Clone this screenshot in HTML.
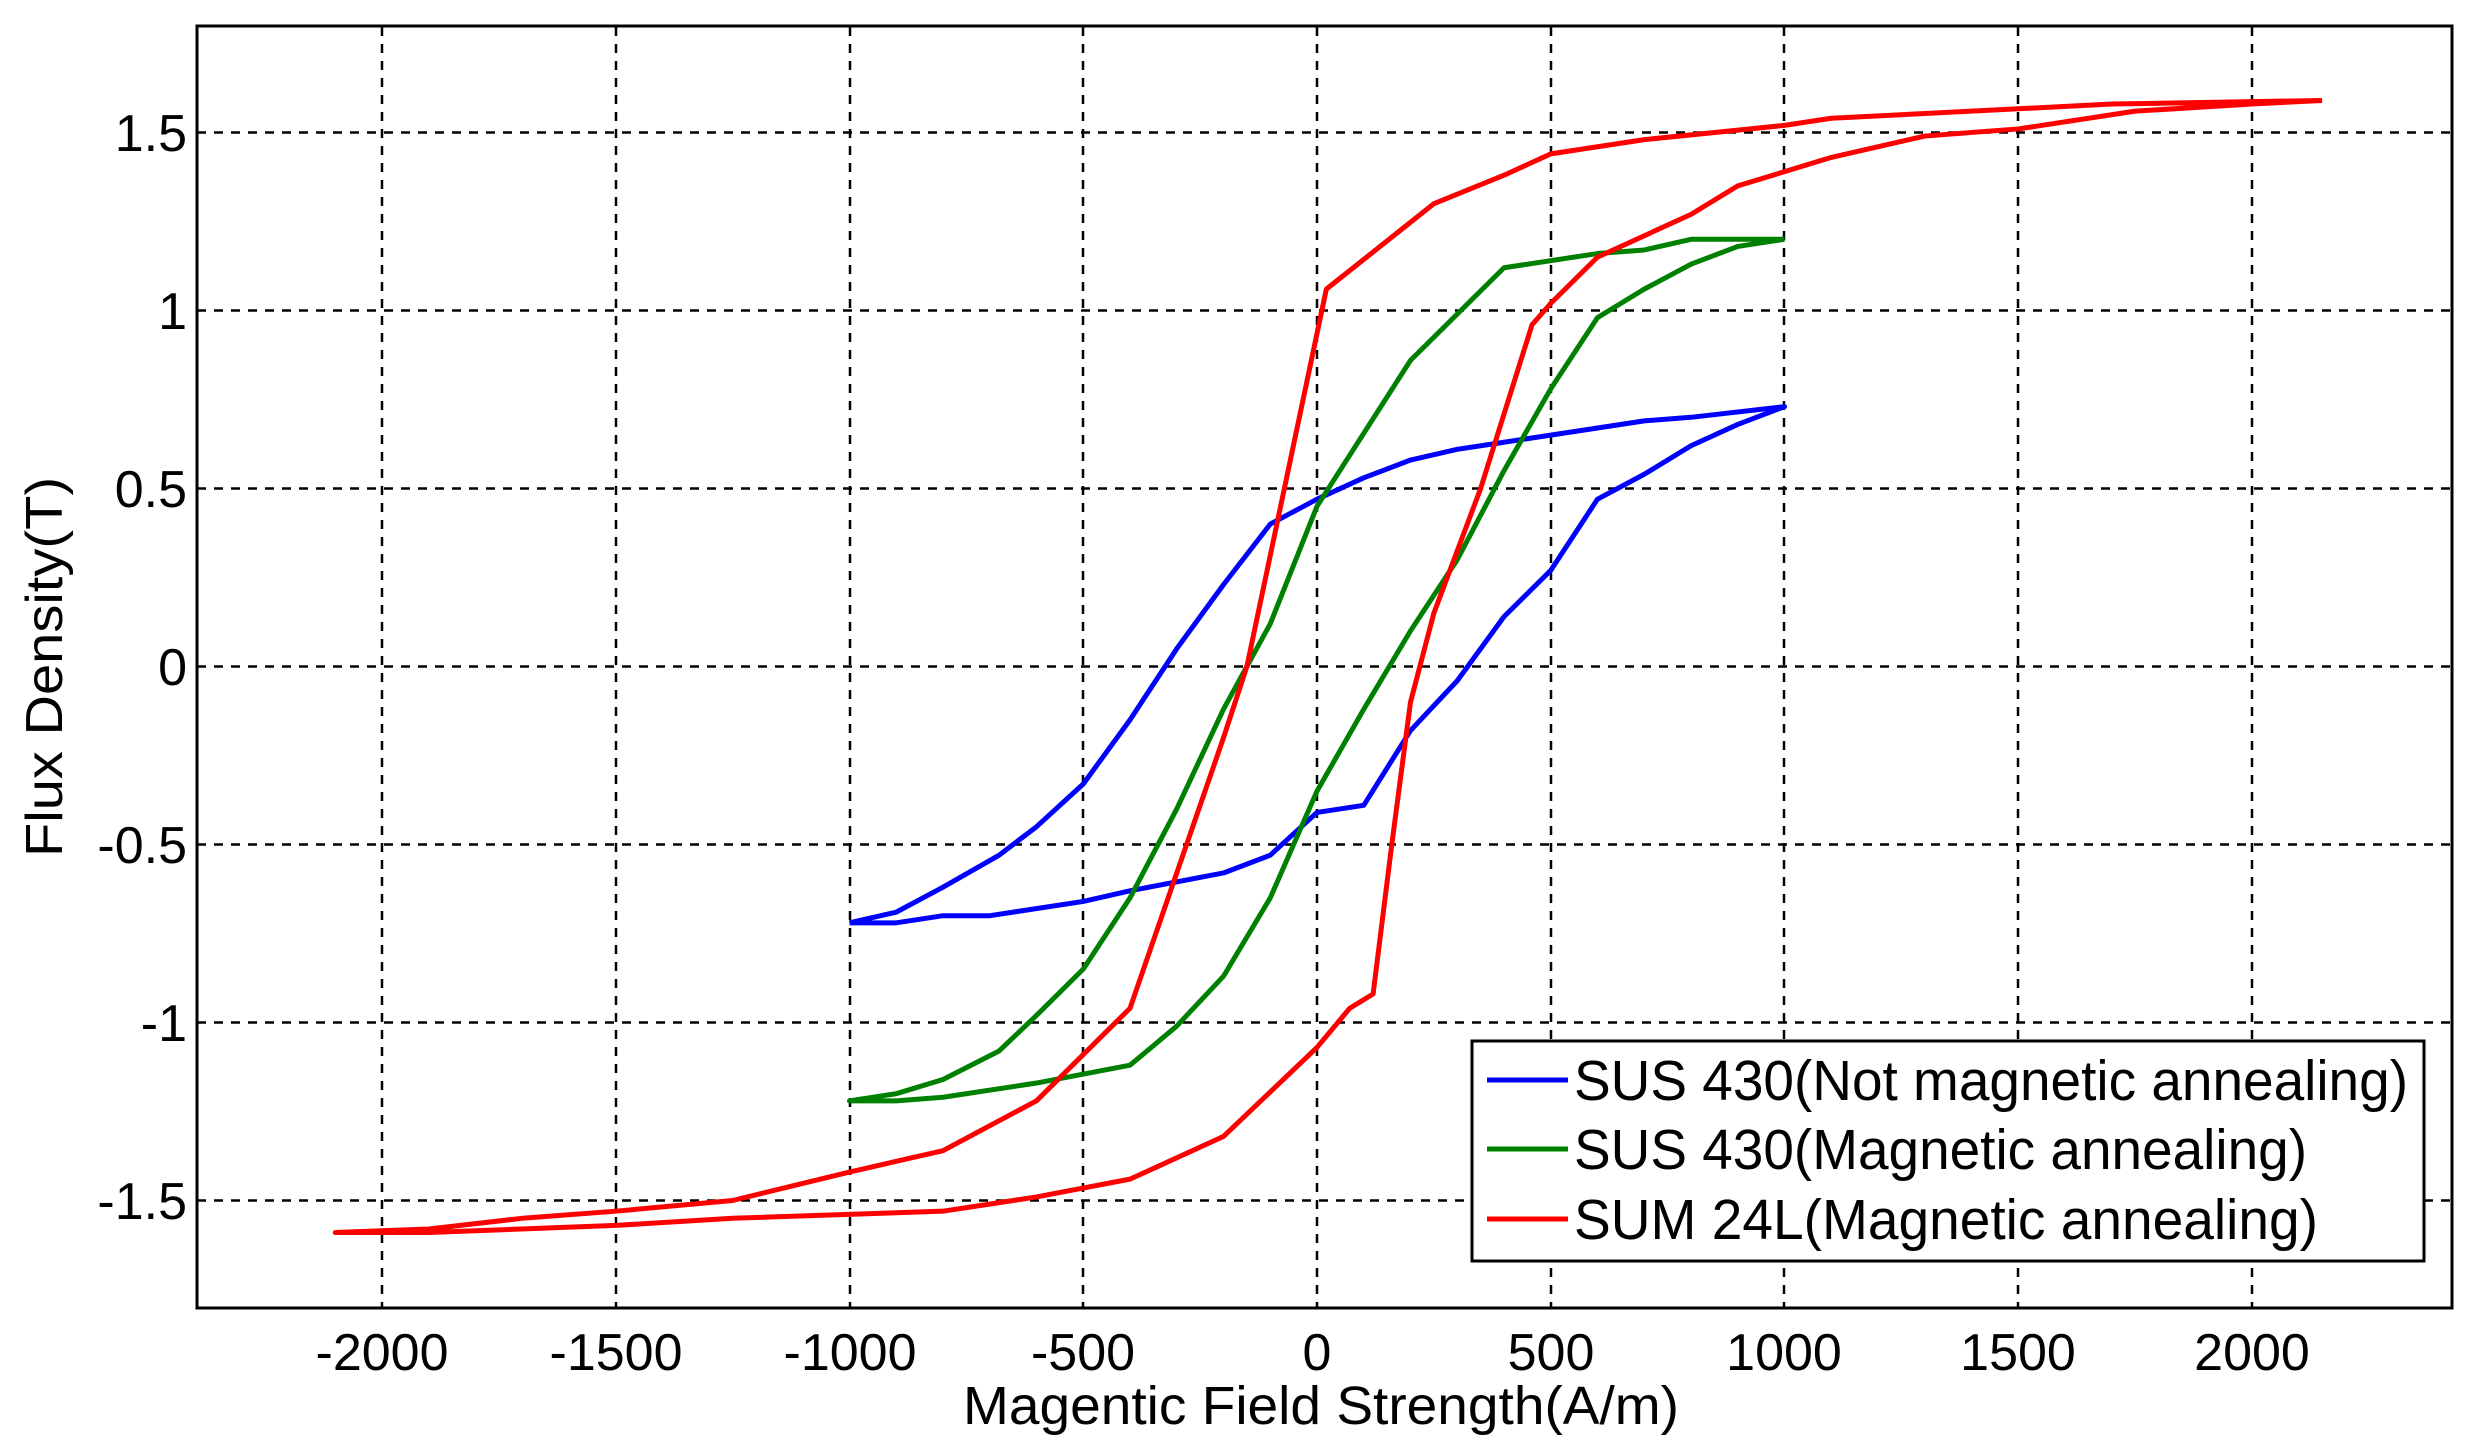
<!DOCTYPE html>
<html><head><meta charset="utf-8"><style>
html,body{margin:0;padding:0;background:#fff;}
svg{display:block;font-family:"Liberation Sans",sans-serif;}
</style></head><body>
<svg width="2470" height="1449" viewBox="0 0 2470 1449" xmlns="http://www.w3.org/2000/svg">
<rect width="2470" height="1449" fill="#fff"/>
<g stroke="#000" stroke-width="2.5" stroke-dasharray="9,8">
<line x1="382" y1="27" x2="382" y2="1308"/>
<line x1="616" y1="27" x2="616" y2="1308"/>
<line x1="850" y1="27" x2="850" y2="1308"/>
<line x1="1083" y1="27" x2="1083" y2="1308"/>
<line x1="1317" y1="27" x2="1317" y2="1308"/>
<line x1="1551" y1="27" x2="1551" y2="1308"/>
<line x1="1784" y1="27" x2="1784" y2="1308"/>
<line x1="2018" y1="27" x2="2018" y2="1308"/>
<line x1="2252" y1="27" x2="2252" y2="1308"/>
<line x1="197" y1="132.5" x2="2452" y2="132.5"/>
<line x1="197" y1="310.5" x2="2452" y2="310.5"/>
<line x1="197" y1="488.5" x2="2452" y2="488.5"/>
<line x1="197" y1="666.5" x2="2452" y2="666.5"/>
<line x1="197" y1="844.5" x2="2452" y2="844.5"/>
<line x1="197" y1="1022.5" x2="2452" y2="1022.5"/>
<line x1="197" y1="1200.5" x2="2452" y2="1200.5"/>
</g>
<rect x="197" y="26" width="2255" height="1282" fill="none" stroke="#000" stroke-width="3"/>
<g fill="none" stroke-width="5" stroke-linejoin="round" transform="matrix(0.4675 0 0 -356 1317 666.5)">
<polyline vector-effect="non-scaling-stroke" stroke="#0000ff" points="-1000,-0.72 -900,-0.69 -800,-0.62 -680,-0.53 -600,-0.45 -500,-0.33 -400,-0.15 -300,0.05 -200,0.23 -100,0.4 0,0.47 100,0.53 200,0.58 300,0.61 400,0.63 500,0.65 600,0.67 700,0.69 800,0.7 1000,0.73 900,0.68 800,0.62 700,0.54 600,0.47 500,0.27 400,0.14 300,-0.04 200,-0.18 100,-0.39 0,-0.41 -100,-0.53 -200,-0.58 -400,-0.63 -500,-0.66 -700,-0.7 -800,-0.7 -900,-0.72 -1000,-0.72"/>
<polyline vector-effect="non-scaling-stroke" stroke="#008000" points="1000,1.2 800,1.2 700,1.17 600,1.16 400,1.12 200,0.86 0,0.45 -100,0.12 -200,-0.12 -300,-0.4 -400,-0.65 -500,-0.85 -600,-0.98 -680,-1.08 -800,-1.16 -900,-1.2 -1000,-1.22 -900,-1.22 -800,-1.21 -600,-1.17 -400,-1.12 -300,-1.01 -200,-0.87 -100,-0.65 0,-0.35 100,-0.12 200,0.1 300,0.3 400,0.55 500,0.78 600,0.98 700,1.06 800,1.13 900,1.18 1000,1.2"/>
<polyline vector-effect="non-scaling-stroke" stroke="#ff0000" points="2150,1.59 1700,1.58 1100,1.54 1000,1.52 700,1.48 500,1.44 400,1.38 250,1.3 20,1.06 -150,0 -200,-0.2 -400,-0.96 -600,-1.22 -800,-1.36 -1000,-1.42 -1250,-1.5 -1500,-1.53 -1700,-1.55 -1900,-1.58 -2100,-1.59 -1900,-1.59 -1500,-1.57 -1250,-1.55 -800,-1.53 -600,-1.49 -400,-1.44 -200,-1.32 0,-1.07 70,-0.96 120,-0.92 160,-0.5 200,-0.1 250,0.15 350,0.5 460,0.96 500,1.02 600,1.15 800,1.27 900,1.35 1100,1.43 1300,1.49 1500,1.51 1750,1.56 2000,1.58 2150,1.59"/>
</g>
<rect x="1472" y="1041" width="952" height="220" fill="#fff" stroke="#000" stroke-width="3"/>
<g stroke-width="5">
<line x1="1487" y1="1080" x2="1568" y2="1080" stroke="#0000ff"/>
<line x1="1487" y1="1149" x2="1568" y2="1149" stroke="#008000"/>
<line x1="1487" y1="1219" x2="1568" y2="1219" stroke="#ff0000"/>
</g>
<g font-size="57" fill="#000" lengthAdjust="spacingAndGlyphs">
<text x="1574" y="1100" textLength="834" lengthAdjust="spacingAndGlyphs">SUS 430(Not magnetic annealing)</text>
<text x="1574" y="1169" textLength="733" lengthAdjust="spacingAndGlyphs">SUS 430(Magnetic annealing)</text>
<text x="1574" y="1239" textLength="744" lengthAdjust="spacingAndGlyphs">SUM 24L(Magnetic annealing)</text>
</g>
<g font-size="52" fill="#000" text-anchor="middle">
<text x="382" y="1370">-2000</text>
<text x="616" y="1370">-1500</text>
<text x="850" y="1370">-1000</text>
<text x="1083" y="1370">-500</text>
<text x="1317" y="1370">0</text>
<text x="1551" y="1370">500</text>
<text x="1784" y="1370">1000</text>
<text x="2018" y="1370">1500</text>
<text x="2252" y="1370">2000</text>
<text x="1321" y="1424" font-size="54" textLength="716" lengthAdjust="spacingAndGlyphs">Magentic Field Strength(A/m)</text>
</g>
<g font-size="52" fill="#000" text-anchor="end">
<text x="187" y="151">1.5</text>
<text x="187" y="329">1</text>
<text x="187" y="507">0.5</text>
<text x="187" y="685">0</text>
<text x="187" y="863">-0.5</text>
<text x="187" y="1041">-1</text>
<text x="187" y="1219">-1.5</text>
</g>
<text x="0" y="0" font-size="52" text-anchor="middle" textLength="380" lengthAdjust="spacingAndGlyphs" transform="translate(62,667) rotate(-90)">Flux Density(T)</text>
</svg>
</body></html>
